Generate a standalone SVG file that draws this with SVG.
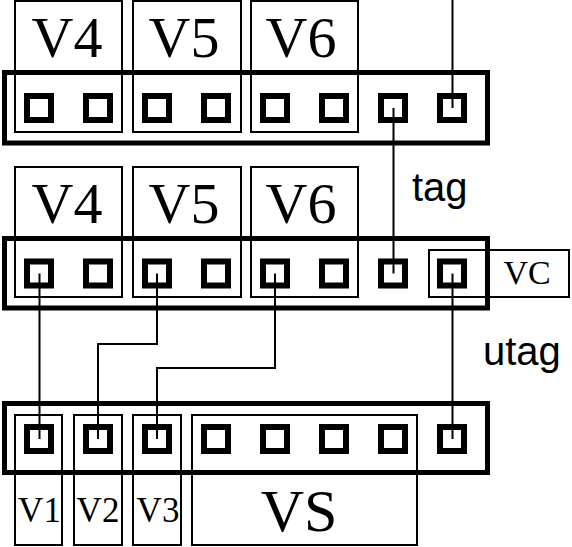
<svg xmlns="http://www.w3.org/2000/svg" width="572" height="547" viewBox="0 0 572 547">
<style>
.box{fill:none;stroke:#000;stroke-width:2}
.strip{fill:none;stroke:#000;stroke-width:5}
.pin{fill:none;stroke:#000;stroke-width:6}
.wire{fill:none;stroke:#000;stroke-width:2}
.ser{font-family:"Liberation Serif","Times New Roman",serif;fill:#000;text-anchor:middle}
.big{font-size:58px}
.mid{font-size:35px}
.vcs{font-size:34px}
.vs{font-size:60px}
.sans{font-family:"Liberation Sans",Arial,sans-serif;font-size:40px;fill:#000}
</style>
<rect width="572" height="547" fill="#fff"/>
<defs>
<g id="pins">
<rect class="pin" x="27" y="-12" width="24" height="24"/>
<rect class="pin" x="86" y="-12" width="24" height="24"/>
<rect class="pin" x="145" y="-12" width="24" height="24"/>
<rect class="pin" x="204" y="-12" width="24" height="24"/>
<rect class="pin" x="263" y="-12" width="24" height="24"/>
<rect class="pin" x="322" y="-12" width="24" height="24"/>
<rect class="pin" x="381" y="-12" width="24" height="24"/>
<rect class="pin" x="440" y="-12" width="24" height="24"/>
</g>
</defs>

<!-- Row 1 -->
<g id="v4-top"><rect class="box" x="15" y="1" width="107" height="131"/><text class="ser big" x="67" y="57">V4</text></g>
<g id="v5-top"><rect class="box" x="133" y="1" width="108" height="131"/><text class="ser big" x="184" y="57">V5</text></g>
<g id="v6-top"><rect class="box" x="251" y="1" width="107" height="131"/><text class="ser big" x="301" y="57">V6</text></g>
<g id="strip-top"><rect class="strip" x="4.5" y="72.5" width="483" height="70.5"/><use href="#pins" y="108"/></g>

<!-- Row 2 -->
<g id="v4-mid"><rect class="box" x="15" y="167" width="107" height="130"/><text class="ser big" x="67" y="223">V4</text></g>
<g id="v5-mid"><rect class="box" x="133" y="167" width="108" height="130"/><text class="ser big" x="184" y="223">V5</text></g>
<g id="v6-mid"><rect class="box" x="251" y="167" width="107" height="130"/><text class="ser big" x="301" y="223">V6</text></g>
<g id="vc"><rect class="box" x="429" y="250" width="140" height="47"/><text class="ser vcs" x="527" y="284">VC</text></g>
<g id="strip-mid"><rect class="strip" x="4.5" y="238.5" width="483" height="69.5"/><use href="#pins" y="273.5"/></g>

<!-- Row 3 -->
<g id="v1"><rect class="box" x="15" y="415" width="47" height="130"/><text class="ser mid" x="39.5" y="522">V1</text></g>
<g id="v2"><rect class="box" x="74" y="415" width="48" height="130"/><text class="ser mid" x="98" y="522">V2</text></g>
<g id="v3"><rect class="box" x="133" y="415" width="48" height="130"/><text class="ser mid" x="158" y="522">V3</text></g>
<g id="vs"><rect class="box" x="192" y="415" width="225" height="130"/><text class="ser vs" x="299" y="531">VS</text></g>
<g id="strip-bot"><rect class="strip" x="4.5" y="403.5" width="483" height="69"/><use href="#pins" y="439"/></g>

<!-- Connectors -->
<g id="connectors">
<path class="wire" d="M452.5,0 V108"/>
<path class="wire" d="M393.5,108 V273.5"/>
<path class="wire" d="M39.5,273.5 V439"/>
<path class="wire" d="M157,273.5 V344 H98 V439"/>
<path class="wire" d="M275,273.5 V368 H157 V439"/>
<path class="wire" d="M452.5,273.5 V439"/>
</g>

<g id="labels">
<text class="sans" x="412" y="201">tag</text>
<text class="sans" x="483" y="365">utag</text>
</g>
</svg>
